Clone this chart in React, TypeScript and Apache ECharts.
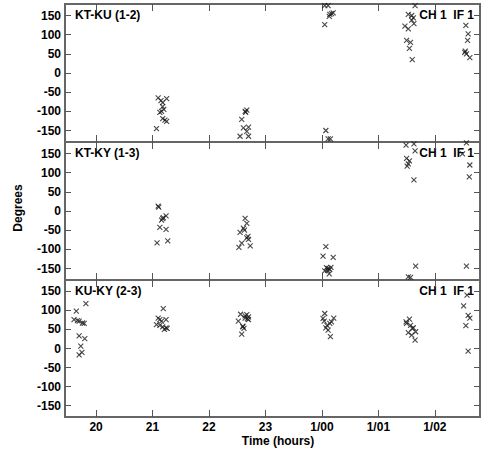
import React, { useEffect, useRef } from "react";
import * as echarts from "echarts";

const hourTicks = [20, 21, 22, 23, 24, 25, 26];
const degreeTicks = [-150, -100, -50, 0, 50, 100, 150];
const panelLabels = ["KT-KU (1-2)", "KT-KY (1-3)", "KU-KY (2-3)"];
const channelLabel = "CH 1  IF 1";

const ktkuPoints = [
  [21.10, -65], [21.25, -67], [21.15, -72], [21.18, -77], [21.18, -88], [21.20, -95],
  [21.16, -100], [21.13, -103], [21.18, -119], [21.22, -123], [21.25, -126], [21.07, -145],
  [22.64, -100], [22.67, -97], [22.65, -103], [22.58, -121], [22.61, -143], [22.70, -141],
  [22.67, -152], [22.55, -165], [22.70, -165],
  [24.05, 176], [24.11, 176], [24.14, 153], [24.20, 157], [24.13, 148], [24.17, 155],
  [24.05, 126], [24.07, -150], [24.11, -172], [24.15, -172],
  [25.65, 176], [25.53, 153], [25.59, 150], [25.62, 144], [25.59, 138], [25.63, 129],
  [25.47, 122], [25.53, 115], [25.50, 85], [25.57, 80], [25.55, 64], [25.60, 35],
  [26.55, 124], [26.59, 102], [26.58, 85], [26.53, 54], [26.54, 57], [26.56, 50], [26.62, 40],
];

const ktkyPoints = [
  [21.10, 13], [21.11, 10], [21.19, -17], [21.24, -13], [21.16, -24], [21.18, -20],
  [21.13, -43], [21.24, -48], [21.08, -83], [21.27, -78],
  [22.64, -19], [22.67, -32], [22.61, -45], [22.55, -56], [22.63, -50], [22.67, -70],
  [22.70, -74], [22.69, -66], [22.58, -84], [22.53, -95], [22.73, -91],
  [24.07, -93], [24.02, -118], [24.20, -121], [24.08, -148], [24.11, -150], [24.14, -152],
  [24.10, -155], [24.16, -147], [24.05, -156], [24.13, -164],
  [25.49, 172], [25.63, 175], [25.65, 157], [25.50, 137], [25.55, 131], [25.53, 123],
  [25.51, 117], [25.63, 81], [25.66, -144], [25.53, -172], [25.57, -173],
  [26.56, 178], [26.49, 149], [26.62, 120], [26.61, 89], [26.56, -144],
];

const kukyPoints = [
  [19.65, 98], [19.61, 76], [19.67, 73], [19.70, 72], [19.76, 67], [19.79, 66],
  [19.82, 118], [19.70, 33], [19.80, 26], [19.73, 6], [19.75, -10], [19.70, -17],
  [21.19, 105], [21.10, 80], [21.13, 76], [21.24, 76], [21.07, 63], [21.13, 61],
  [21.18, 57], [21.24, 54], [21.26, 53], [21.16, 72], [21.21, 50],
  [22.56, 90], [22.52, 72], [22.67, 89], [22.70, 83], [22.64, 80], [22.60, 59],
  [22.62, 53], [22.58, 38], [22.64, 86], [22.70, 76], [22.60, 57], [22.68, 78],
  [24.05, 92], [24.02, 79], [24.04, 72], [24.09, 61], [24.14, 66], [24.21, 80],
  [24.17, 70], [24.11, 48], [24.15, 31], [24.07, 54],
  [25.49, 70], [25.55, 77], [25.57, 61], [25.62, 54], [25.66, 44], [25.53, 42],
  [25.59, 35], [25.65, 22], [25.50, 66], [25.60, 53],
  [26.57, 140], [26.51, 112], [26.59, 87], [26.62, 80], [26.55, 60], [26.59, -7],
];

const panels = [ktkuPoints, ktkyPoints, kukyPoints];

const FONT = '"Liberation Sans", Arial, Helvetica, sans-serif';
const X_MIN = 19.45;
const X_MAX = 26.8;
const gridTops = [4, 142, 280];
const gridHeights = [138, 138, 137];
const GRID_LEFT = 65;
const GRID_WIDTH = 415;

function hourLabel(v: number): string {
  if (v < 24) return String(v);
  return "1/0" + String(v - 24);
}

export default function App() {
  const ref = useRef<HTMLDivElement>(null);
  useEffect(() => {
    if (!ref.current) return;
    const chart = echarts.init(ref.current, null, { renderer: "svg" });

    const grids = gridTops.map((top, i) => ({
      left: GRID_LEFT,
      top,
      width: GRID_WIDTH,
      height: gridHeights[i],
      show: true,
      borderColor: "#666",
      borderWidth: 2,
      backgroundColor: "transparent",
    }));

    const tickStyle = { color: "#555", width: 1 };

    const xAxes: any[] = [];
    ["bottom", "top"].forEach((pos) => {
      [0, 1, 2].forEach((i) => {
        const showLabel = pos === "bottom" && i === 2;
        xAxes.push({
          type: "value",
          gridIndex: i,
          position: pos,
          min: X_MIN,
          max: X_MAX,
          axisLine: { show: false, onZero: false },
          splitLine: { show: false },
          axisTick: {
            show: true,
            inside: true,
            length: 7,
            customValues: hourTicks,
            lineStyle: tickStyle,
          },
          axisLabel: showLabel
            ? {
                show: true,
                customValues: hourTicks,
                formatter: (v: number) => hourLabel(v),
                color: "#000",
                fontWeight: "bold",
                fontSize: 12,
                fontFamily: FONT,
                lineHeight: 10,
                margin: 5,
              }
            : { show: false },
        });
      });
    });

    const yAxes: any[] = [];
    ["left", "right"].forEach((pos) => {
      [0, 1, 2].forEach((i) => {
        const showLabel = pos === "left";
        yAxes.push({
          type: "value",
          gridIndex: i,
          position: pos,
          min: -180,
          max: 180,
          axisLine: { show: false, onZero: false },
          splitLine: { show: false },
          axisTick: {
            show: true,
            inside: true,
            length: 6,
            customValues: degreeTicks,
            lineStyle: tickStyle,
          },
          axisLabel: showLabel
            ? {
                show: true,
                customValues: degreeTicks,
                color: "#000",
                fontWeight: "bold",
                fontSize: 12,
                fontFamily: FONT,
                lineHeight: 10,
                margin: 4,
              }
            : { show: false },
        });
      });
    });

    const series = panels.map((pts, i) => ({
      type: "scatter",
      xAxisIndex: i,
      yAxisIndex: i,
      data: pts,
      symbol: "path://M0 0L10 10M10 0L0 10",
      symbolSize: 5,
      itemStyle: { color: "transparent", borderColor: "#1a1a1a", borderWidth: 1.1 },
      silent: true,
    }));

    const textStyle = (extra: any) => ({
      fill: "#000",
      fontWeight: "bold",
      fontSize: 12,
      fontFamily: FONT,
      lineHeight: 10,
      ...extra,
    });

    const graphics: any[] = [];
    gridTops.forEach((top, i) => {
      graphics.push({
        type: "text",
        x: 75,
        y: top + 10.5,
        style: textStyle({ text: panelLabels[i], textAlign: "left", textVerticalAlign: "middle" }),
      });
      graphics.push({
        type: "text",
        x: 474,
        y: top + 10.5,
        style: textStyle({ text: channelLabel, textAlign: "right", textVerticalAlign: "middle" }),
      });
    });
    graphics.push({
      type: "text",
      x: 17.5,
      y: 208,
      rotation: Math.PI / 2,
      style: textStyle({ text: "Degrees", textAlign: "center", textVerticalAlign: "middle" }),
    });
    graphics.push({
      type: "text",
      x: 278,
      y: 441,
      style: textStyle({ text: "Time (hours)", textAlign: "center", textVerticalAlign: "middle" }),
    });

    chart.setOption({
      animation: false,
      backgroundColor: "#fff",
      grid: grids,
      xAxis: xAxes,
      yAxis: yAxes,
      series,
      graphic: graphics,
    });
    return () => chart.dispose();
  }, []);

  return (
    <div
      ref={ref}
      style={{ position: "absolute", left: 0, top: 0, width: 491, height: 453 }}
    />
  );
}
